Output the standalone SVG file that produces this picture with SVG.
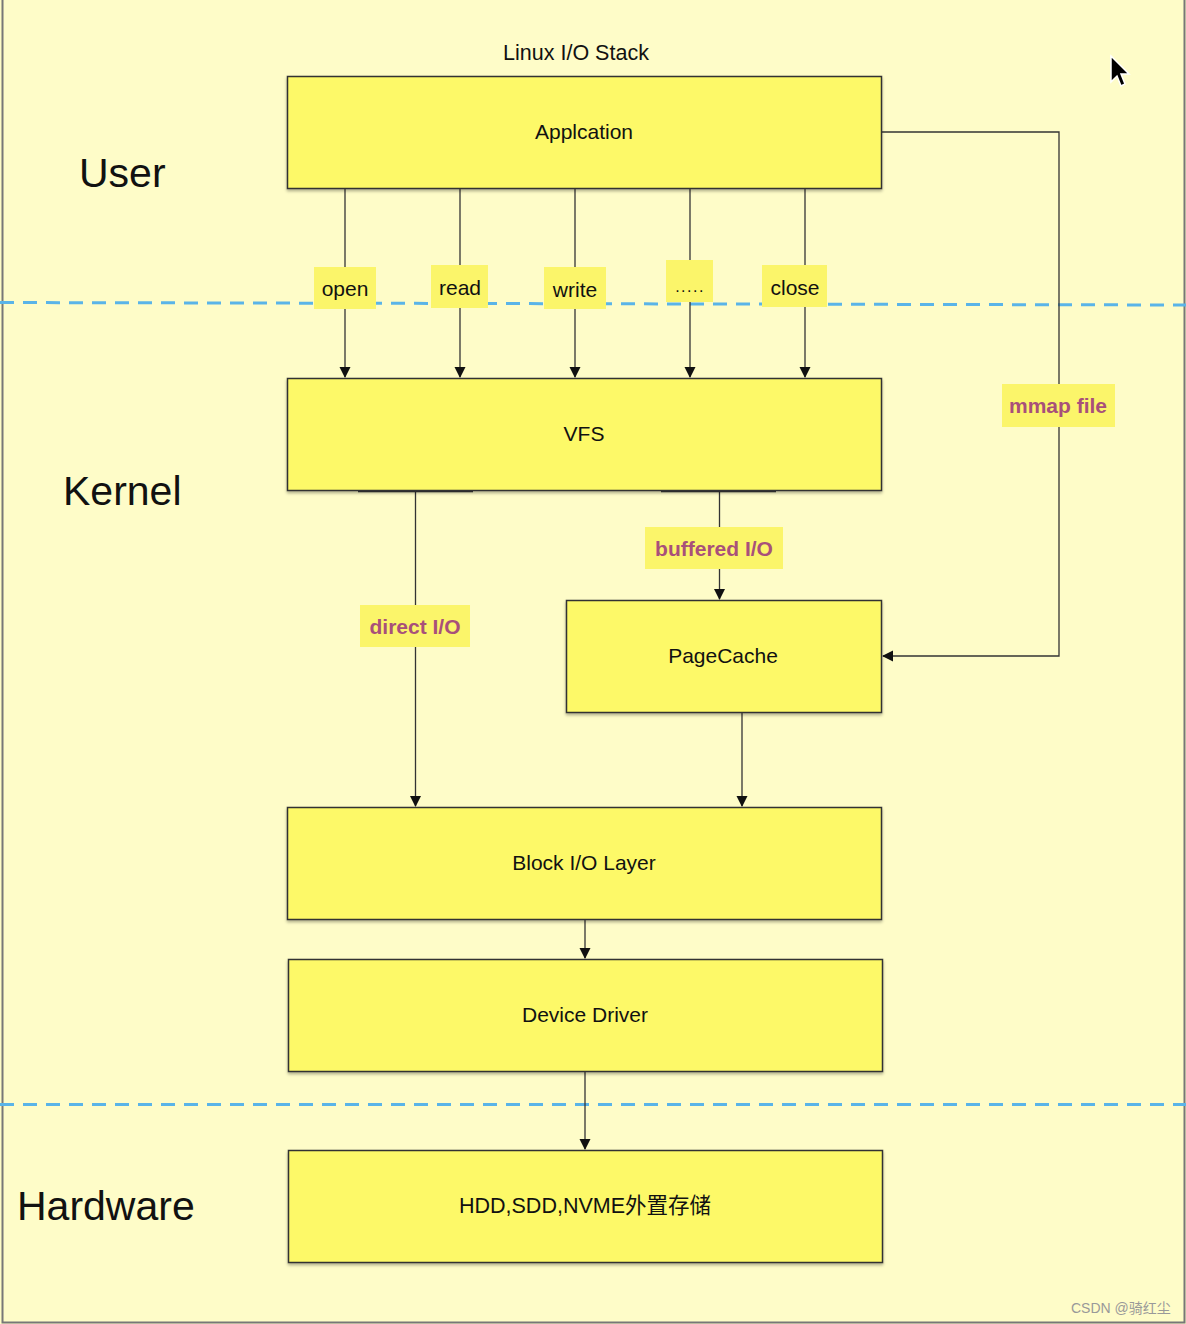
<svg xmlns="http://www.w3.org/2000/svg" width="1186" height="1324" viewBox="0 0 1186 1324">
<defs>
<marker id="ah" markerWidth="11" markerHeight="12" refX="10" refY="6" orient="auto" markerUnits="userSpaceOnUse">
<path d="M0,0.5 L11,6 L0,11.5 Z" fill="#111"/>
</marker>
<filter id="sh" x="-5%" y="-5%" width="110%" height="115%">
<feDropShadow dx="0" dy="2" stdDeviation="1.5" flood-color="#000" flood-opacity="0.3"/>
</filter>
</defs>
<style>
.box{fill:#fdf967;stroke:#333;stroke-width:1.5;filter:url(#sh)}
.bt{font-family:"Liberation Sans",Arial,"Noto Sans CJK SC",sans-serif;font-size:21px;fill:#111;text-anchor:middle}
.lb{fill:#fbf56a}
.lt{font-family:"Liberation Sans",Arial,sans-serif;font-size:21px;fill:#111;text-anchor:middle}
.pt{font-family:"Liberation Sans",Arial,sans-serif;font-size:21px;font-weight:bold;fill:#a8507a;text-anchor:middle}
.big{font-family:"Liberation Sans",Arial,sans-serif;font-size:41px;fill:#111}
.ln{stroke:#333;stroke-width:1.3;fill:none}
.dash{stroke:#5ab4e8;stroke-width:3;stroke-dasharray:14,9;fill:none}
</style>
<rect x="0" y="0" width="1186" height="1324" fill="#fefcc8"/>
<path d="M2.5,0 V1322.5 H1184.5 V0" fill="none" stroke="#777" stroke-width="2"/>

<text x="576" y="60" class="bt" style="font-size:21.5px">Linux I/O Stack</text>
<text x="79" y="187" class="big">User</text>
<text x="63" y="505" class="big">Kernel</text>
<text x="17" y="1220" class="big">Hardware</text>

<g id="dashes">
<path class="dash" d="M0,302.5 L1186,305"/>
<path class="dash" d="M0,1104.5 L1186,1104.5"/>
</g>

<g id="connectors">
<line class="ln" x1="345" y1="188" x2="345" y2="377" marker-end="url(#ah)"/>
<line class="ln" x1="460" y1="188" x2="460" y2="377" marker-end="url(#ah)"/>
<line class="ln" x1="575" y1="188" x2="575" y2="377" marker-end="url(#ah)"/>
<line class="ln" x1="690" y1="188" x2="690" y2="377" marker-end="url(#ah)"/>
<line class="ln" x1="805" y1="188" x2="805" y2="377" marker-end="url(#ah)"/>
<polyline class="ln" points="881,132 1059,132 1059,656 883,656" marker-end="url(#ah)"/>
<line class="ln" x1="358" y1="491.5" x2="473" y2="491.5"/>
<line class="ln" x1="661" y1="491.5" x2="776" y2="491.5"/>
<line class="ln" x1="415.5" y1="491" x2="415.5" y2="806" marker-end="url(#ah)"/>
<line class="ln" x1="719.5" y1="491" x2="719.5" y2="599" marker-end="url(#ah)"/>
<line class="ln" x1="742" y1="712" x2="742" y2="806" marker-end="url(#ah)"/>
<line class="ln" x1="585" y1="919" x2="585" y2="958" marker-end="url(#ah)"/>
<line class="ln" x1="585" y1="1071" x2="585" y2="1149" marker-end="url(#ah)"/>
</g>

<g id="labels">
<rect class="lb" x="314" y="267" width="62" height="42"/>
<text class="lt" x="345" y="296">open</text>
<rect class="lb" x="431" y="265" width="57" height="43"/>
<text class="lt" x="460" y="295">read</text>
<rect class="lb" x="544" y="267" width="62" height="42"/>
<text class="lt" x="575" y="297">write</text>
<rect class="lb" x="666" y="260" width="47" height="42"/>
<text class="lt" x="690" y="292" style="font-size:16px;letter-spacing:1.5px">.....</text>
<rect class="lb" x="762" y="265" width="65" height="42"/>
<text class="lt" x="795" y="295">close</text>
<rect class="lb" x="1002" y="384" width="113" height="43"/>
<text class="pt" x="1058" y="413">mmap file</text>
<rect class="lb" x="645" y="527" width="138" height="42"/>
<text class="pt" x="714" y="556">buffered I/O</text>
<rect class="lb" x="360" y="605" width="110" height="42"/>
<text class="pt" x="415" y="634">direct I/O</text>
</g>

<g id="app"><rect class="box" x="287.5" y="76.5" width="594" height="112"/><text class="bt" x="584" y="139">Applcation</text></g>
<g id="vfs"><rect class="box" x="287.5" y="378.5" width="594" height="112"/><text class="bt" x="584" y="441">VFS</text></g>
<g id="pagecache"><rect class="box" x="566.5" y="600.5" width="315" height="112"/><text class="bt" x="723" y="663">PageCache</text></g>
<g id="blockio"><rect class="box" x="287.5" y="807.5" width="594" height="112"/><text class="bt" x="584" y="870">Block I/O Layer</text></g>
<g id="driver"><rect class="box" x="288.5" y="959.5" width="594" height="112"/><text class="bt" x="585" y="1022">Device Driver</text></g>
<g id="hw"><rect class="box" x="288.5" y="1150.5" width="594" height="112"/><text class="bt" x="585" y="1213" style="font-size:21.5px">HDD,SDD,NVME外置存储</text></g>

<path d="M1111,56 L1111,82 L1117,76 L1121,86 L1125,84 L1121,74 L1129,74 Z" fill="#000" stroke="#fff" stroke-width="1.5"/>

<text x="1071" y="1313" style="font-family:'Liberation Sans',Arial,'Noto Sans CJK SC',sans-serif;font-size:14px;fill:#999">CSDN @骑红尘</text>
</svg>
